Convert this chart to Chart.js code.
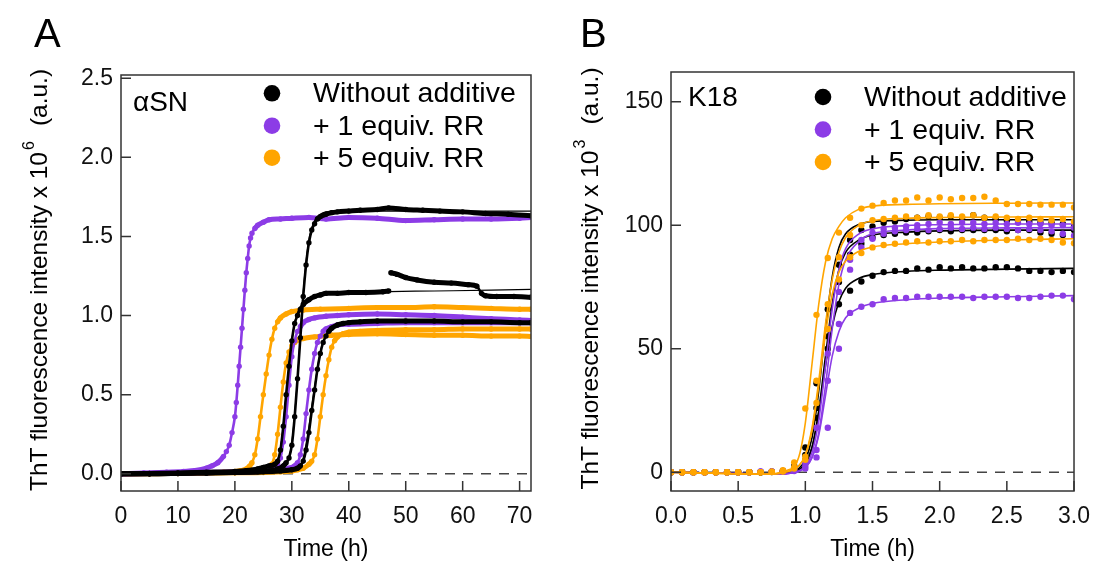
<!DOCTYPE html>
<html>
<head>
<meta charset="utf-8">
<script src="https://cdn.jsdelivr.net/npm/chart.js@4.4.0/dist/chart.umd.min.js"></script>
<style>
  body { margin: 0; background: #fff; }
  #wrap { position: relative; width: 1102px; height: 565px; }
  canvas { position: absolute; top: 0; }
  #chartA { left: 0; }
  #chartB { left: 551px; }
</style>
</head>
<body>
<div id="wrap">
  <canvas id="chartA" width="551" height="565"></canvas>
  <canvas id="chartB" width="551" height="565"></canvas>
</div>
<script>
// ThT aggregation kinetics, panel A (alpha-synuclein) and panel B (K18)

const FONT = '"Liberation Sans", Arial, Helvetica, sans-serif';
const BLACK = '#000000';
const PURPLE = '#8c3ce6';
const ORANGE = '#ffa500';

const legendLabels = ['Without additive', '+ 1 equiv. RR', '+ 5 equiv. RR'];

// ---- panel A : time (h) / intensity (x 10^6) ----
const aK1T = [0, 5, 10, 15, 20, 24, 26, 27.5, 28.5, 29, 29.5, 30, 30.5, 31, 31.5, 32, 32.5, 33, 33.5, 34, 34.5, 35, 36, 37, 38, 40, 42, 45, 47, 50, 53, 56, 60, 64, 68, 72];
const aK1V = [0, 0, 0.002, 0.005, 0.008, 0.012, 0.018, 0.03, 0.05, 0.07, 0.1, 0.18, 0.36, 0.6, 0.86, 1.12, 1.32, 1.46, 1.54, 1.58, 1.61, 1.625, 1.64, 1.65, 1.655, 1.66, 1.665, 1.67, 1.68, 1.67, 1.665, 1.66, 1.655, 1.645, 1.64, 1.63];
const aK2T = [0, 5, 10, 15, 20, 22, 24, 25, 26, 27, 27.5, 28, 28.5, 29, 29.5, 30, 30.5, 31, 31.5, 32, 33, 34, 35, 36, 38, 40, 43, 46, 47, 47.2, 47.4, 48.5, 50, 52, 55, 58, 61, 62.5, 63.3, 64, 66, 69, 72];
const aK2V = [0, 0.002, 0.005, 0.01, 0.015, 0.02, 0.03, 0.04, 0.05, 0.06, 0.08, 0.15, 0.3, 0.5, 0.68, 0.84, 0.95, 1.0, 1.04, 1.07, 1.1, 1.12, 1.13, 1.14, 1.14, 1.145, 1.145, 1.15, 1.155, null, 1.27, 1.26, 1.24, 1.225, 1.21, 1.205, 1.195, 1.185, 1.14, 1.125, 1.12, 1.12, 1.115];
const aK3T = [0, 5, 10, 15, 20, 25, 28, 30, 31, 31.5, 32, 32.5, 33, 33.5, 34, 34.5, 35, 35.5, 36, 36.5, 37, 38, 39, 40, 42, 45, 50, 55, 60, 65, 70, 72];
const aK3V = [0, 0, 0.002, 0.005, 0.008, 0.012, 0.018, 0.025, 0.035, 0.05, 0.08, 0.15, 0.26, 0.4, 0.53, 0.66, 0.76, 0.83, 0.87, 0.9, 0.92, 0.94, 0.95, 0.955, 0.96, 0.965, 0.965, 0.965, 0.96, 0.96, 0.955, 0.955];

const aP1T = [0, 4, 8, 11, 13, 15, 16, 17, 18, 18.5, 19, 19.5, 20, 20.25, 20.5, 20.75, 21, 21.25, 21.5, 21.75, 22, 22.25, 22.5, 22.75, 23, 23.5, 24, 25, 26, 28, 30, 33, 36, 40, 45, 50, 55, 60, 65, 70, 72];
const aP1V = [0, 0.005, 0.01, 0.015, 0.02, 0.035, 0.05, 0.07, 0.11, 0.14, 0.18, 0.26, 0.36, 0.45, 0.56, 0.68, 0.8, 0.92, 1.04, 1.16, 1.27, 1.36, 1.44, 1.49, 1.52, 1.55, 1.57, 1.59, 1.605, 1.61, 1.615, 1.62, 1.61, 1.62, 1.615, 1.6, 1.605, 1.61, 1.61, 1.615, 1.62];
const aP2T = [0, 5, 10, 15, 20, 24, 26, 27, 27.5, 28, 28.5, 29, 29.5, 30, 30.5, 31, 31.5, 32, 33, 34, 36, 38, 40, 45, 50, 55, 60, 65, 70, 72];
const aP2V = [0, 0.002, 0.005, 0.008, 0.012, 0.02, 0.03, 0.04, 0.06, 0.1, 0.2, 0.36, 0.56, 0.74, 0.84, 0.9, 0.93, 0.955, 0.975, 0.985, 0.995, 1.0, 1.005, 1.01, 1.005, 1.0, 0.99, 0.98, 0.972, 0.968];
const aP3T = [0, 5, 10, 15, 20, 25, 28, 29.5, 30.5, 31, 31.5, 32, 32.5, 33, 33.5, 34, 34.5, 35, 35.5, 36, 37, 38, 40, 45, 50, 55, 60, 65, 70, 72];
const aP3V = [0, 0.002, 0.004, 0.007, 0.01, 0.015, 0.025, 0.035, 0.05, 0.07, 0.12, 0.22, 0.38, 0.53, 0.66, 0.76, 0.83, 0.87, 0.9, 0.915, 0.93, 0.94, 0.945, 0.95, 0.955, 0.955, 0.955, 0.955, 0.955, 0.955];

const aO1T = [0, 5, 10, 15, 18, 20, 21, 22, 22.5, 23, 23.5, 24, 24.5, 25, 25.5, 26, 26.5, 27, 27.5, 28, 29, 30, 32, 35, 40, 45, 50, 55, 60, 65, 70, 72];
const aO1V = [0, 0.002, 0.004, 0.007, 0.01, 0.015, 0.02, 0.03, 0.045, 0.07, 0.12, 0.22, 0.36, 0.5, 0.63, 0.75, 0.85, 0.92, 0.96, 0.985, 1.01, 1.025, 1.035, 1.04, 1.045, 1.05, 1.05, 1.055, 1.05, 1.045, 1.04, 1.04];
const aO2T = [0, 5, 10, 15, 20, 23, 25, 26, 26.5, 27, 27.5, 28, 28.5, 29, 29.5, 30, 30.5, 31, 32, 34, 37, 40, 45, 50, 55, 60, 65, 70, 72];
const aO2V = [0, 0.002, 0.004, 0.006, 0.01, 0.015, 0.025, 0.035, 0.06, 0.12, 0.25, 0.42, 0.58, 0.7, 0.77, 0.81, 0.83, 0.845, 0.855, 0.865, 0.875, 0.88, 0.885, 0.88, 0.875, 0.875, 0.87, 0.87, 0.868];
const aO3T = [0, 5, 10, 15, 20, 25, 28, 30, 31, 32, 33, 33.5, 34, 34.5, 35, 35.5, 36, 36.5, 37, 37.5, 38, 39, 40, 42, 45, 50, 55, 60, 65, 70, 72];
const aO3V = [0, 0, 0.002, 0.004, 0.006, 0.008, 0.012, 0.018, 0.025, 0.035, 0.06, 0.08, 0.12, 0.22, 0.36, 0.5, 0.62, 0.72, 0.8, 0.84, 0.865, 0.885, 0.895, 0.9, 0.905, 0.91, 0.91, 0.915, 0.915, 0.915, 0.915];

// fitted curves (black) for panel A
const aK1fT = [0, 26, 29, 30, 31, 32, 33, 34, 35, 36, 38, 72];
const aK1fV = [0, 0.01, 0.06, 0.2, 0.6, 1.15, 1.48, 1.6, 1.64, 1.655, 1.66, 1.66];
const aK2fT = [0, 24, 27, 28, 29, 30, 31, 32, 34, 37, 45, 55, 65, 72];
const aK2fV = [0, 0.01, 0.05, 0.15, 0.5, 0.85, 1.02, 1.08, 1.12, 1.14, 1.15, 1.155, 1.16, 1.165];
const aK3fT = [0, 28, 31, 32, 33, 34, 35, 36, 37, 39, 45, 72];
const aK3fV = [0, 0.01, 0.04, 0.1, 0.3, 0.55, 0.77, 0.88, 0.93, 0.95, 0.96, 0.96];

const aZeroT = [0, 72];
const aZeroV = [0, 0];

// ---- panel B : time (h) / intensity (x 10^3), one reading every 5 min ----
const bT = [0, 0.083, 0.167, 0.25, 0.333, 0.417, 0.5, 0.583, 0.667, 0.75, 0.833, 0.917, 1.0, 1.083, 1.167, 1.25, 1.333, 1.417, 1.5, 1.583, 1.667, 1.75, 1.833, 1.917, 2.0, 2.083, 2.167, 2.25, 2.333, 2.417, 2.5, 2.583, 2.667, 2.75, 2.833, 2.917, 3.0];
const bK1 = [0, 0, 0, 0, 0, 0, 0, 0, 0, 0.2, 0.5, 2.5, 10, 36, 66, 84, 94, 98, 99.5, 101, 101.5, 102.5, 103, 103.5, 103, 103.5, 103, 104, 103, 102.5, 102, 102, 101.5, 101, 101, 100.5, 99.5];
const bK2 = [0, 0, 0, 0, 0, 0, 0, 0, 0, 0.2, 0.3, 2, 7, 26, 55, 77, 88, 92.5, 95, 96, 96.5, 97, 97, 97.5, 98, 97.5, 98, 98, 98, 98, 97.5, 98, 98, 97, 96.5, 96, 98];
const bK3 = [0, 0, 0, 0, 0, 0, 0, 0, 0, 0.1, 0.3, 1.5, 5, 22, 50, 68, 73.5, 77.2, 79.5, 81, 81.5, 81.5, 82.5, 82, 83, 82.5, 83, 82.5, 82.5, 83, 83, 82.5, 81.5, 81.5, 81, 81.5, 81];
const bP1 = [0, 0, 0, 0, 0, 0, 0, 0, 0.2, 0.3, 0.5, 1, 4, 18, 48, 73, 86, 94, 97, 98.5, 99, 99.5, 100, 100.5, 101, 100.5, 101, 101, 100.5, 101, 100.5, 101, 100.5, 100.5, 100, 100, 99];
const bP2 = [0, 0, 0, 0, 0, 0, 0, 0, 0.2, 0.2, 0.3, 0.5, 1.5, 6, 18, 50, 82, 91, 94.5, 96.5, 97.5, 98, 98.5, 98, 98.5, 99, 98.5, 99, 98.5, 99, 98.5, 98, 98.5, 98, 97.5, 96.5, 95.7];
const bP3 = [0, 0, 0, 0, 0, 0, 0, 0, 0.3, 0.3, 0.5, 1, 2.5, 9, 37, 60, 64.5, 67, 68, 70, 70.5, 70.5, 71, 71, 71, 71, 71, 70.5, 71, 71, 71, 70.5, 70.5, 71, 71.5, 71.5, 70];
const bO1 = [0, 0, 0, 0, 0, 0, 0, 0, 0, 0.2, 0.8, 4, 25.8, 63.7, 86.7, 97, 103, 106.7, 107.9, 109, 110, 110, 111.2, 110, 111.2, 110.5, 111, 111, 111.5, 110, 108.6, 108.6, 108.6, 108.3, 108.3, 108.3, 107.2];
const bO2 = [0, 0, 0, 0, 0, 0, 0, 0, 0, 0.2, 0.5, 2, 6.3, 37, 68, 87, 96, 100, 102, 102.5, 103, 103.5, 103, 104, 103.5, 104, 103.5, 104, 103, 103.5, 103, 102.5, 103, 102.5, 102, 102.5, 101.5];
const bO3 = [0, 0, 0, 0, 0, 0, 0, 0, 0, 0.1, 0.3, 1.5, 5, 28, 58, 78, 87, 88.7, 91, 92, 92.5, 93, 93.5, 93, 93.5, 93.5, 94, 93.5, 94, 94, 94, 94.5, 94, 94.5, 94, 93, 92.7];

// fitted curves for panel B
const bFT = [0, 0.4, 0.7, 0.85, 0.95, 1.0, 1.05, 1.1, 1.15, 1.2, 1.25, 1.3, 1.4, 1.5, 1.75, 2.0, 2.5, 3.0];
const bK1f = [0, -0.4, -0.8, -0.3, 1.5, 5, 14, 33, 58, 79, 91, 96.5, 100.3, 101.5, 102, 102.2, 102.2, 102.2];
const bK2f = [0, -0.4, -0.8, -0.5, 0.8, 3.5, 10, 25, 47, 68, 82, 89, 94, 96, 97.2, 97.7, 98, 98];
const bK3f = [0, -0.4, -0.8, -0.5, 0.8, 3.5, 10, 24, 43, 59, 69, 74.5, 78.5, 80, 81.3, 81.8, 82.2, 82.5];
const bP1f = [0, -0.4, -0.8, -0.6, 0.5, 2.5, 8, 21, 43, 66, 82, 90.5, 96.5, 98.5, 99.8, 100.2, 100.5, 100.5];
const bP2f = [0, -0.4, -0.8, -0.6, 0.3, 2, 6, 16, 35, 58, 76, 86, 93.5, 96.5, 98, 98.6, 98.9, 99];
const bP3f = [0, -0.4, -0.8, -0.6, 0.3, 2, 6, 15, 31, 47, 57, 62.5, 66.5, 68.3, 69.8, 70.5, 71, 71.5];
const bO1f = [0, -0.5, -0.8, 0.5, 6, 20, 44, 68, 85, 94.5, 99.5, 103, 106.5, 107.7, 108.4, 108.7, 108.9, 109];
const bO2f = [0, -0.5, -0.8, 0, 2.5, 7, 18, 37, 60, 78, 89, 95, 100, 101.8, 102.8, 103.1, 103.3, 103.4];
const bO3f = [0, -0.5, -0.8, 0, 2.5, 7, 17, 35, 56, 72, 81, 85.5, 89.5, 91.2, 92.5, 93.2, 94, 94.5];

const bZeroT = [0, 3];
const bZeroV = [0, 0];

function xy(ts, vs) {
    return ts.map((t, i) => ({ x: t, y: vs[i] }));
}

function series(ts, vs, color, order, extra) {
    return Object.assign({
        data: xy(ts, vs),
        borderColor: color,
        backgroundColor: color,
        pointBackgroundColor: color,
        pointBorderWidth: 0,
        pointHoverRadius: 0,
        order: order,
        spanGaps: false,
        cubicInterpolationMode: 'monotone'
    }, extra);
}

// dense readings: thick band on the plateaus, thinner line where the curve is steep
const dotsA = {
    borderWidth: 5,
    pointRadius: 2.7,
    segment: {
        borderWidth: c => {
            const dx = Math.abs(c.p1.x - c.p0.x), dy = Math.abs(c.p1.y - c.p0.y);
            return dy > dx * 1.5 ? 2.6 : 5;
        }
    }
};
const fitA = { borderWidth: 1.2, pointRadius: 0 };
const dotsB = { showLine: false, pointRadius: 3.2 };
const fitB = { borderWidth: 1.6, pointRadius: 0 };
const zeroLine = { borderColor: '#444', borderWidth: 1.4, borderDash: [10, 8], pointRadius: 0 };

// draws frame, inward ticks, panel letter, tag, legend and axis titles
const decor = {
    id: 'decor',
    afterDraw(chart, args, o) {
        const ctx = chart.ctx;
        const a = chart.chartArea;
        const sx = chart.scales.x, sy = chart.scales.y;
        ctx.save();

        ctx.strokeStyle = '#333';
        ctx.lineWidth = 1.5;
        ctx.beginPath();
        sx.ticks.forEach(t => {
            const p = sx.getPixelForValue(t.value);
            ctx.moveTo(p, a.bottom);
            ctx.lineTo(p, a.bottom - 10);
        });
        sy.ticks.forEach(t => {
            const p = sy.getPixelForValue(t.value);
            ctx.moveTo(a.left, p);
            ctx.lineTo(a.left + 10, p);
        });
        ctx.stroke();
        ctx.strokeRect(a.left, a.top, a.right - a.left, a.bottom - a.top);

        ctx.fillStyle = '#000';
        ctx.textAlign = 'left';
        ctx.textBaseline = 'alphabetic';
        ctx.font = '40px ' + FONT;
        ctx.fillText(o.letter, o.letterX, 47);

        ctx.font = '28px ' + FONT;
        ctx.fillText(o.tag, o.tagX, o.tagY);

        // legend
        const colors = [BLACK, PURPLE, ORANGE];
        ctx.font = '28.5px ' + FONT;
        legendLabels.forEach((lab, i) => {
            const cy = o.legendY[i];
            ctx.fillStyle = colors[i];
            ctx.beginPath();
            ctx.arc(o.legendX, cy, 8.3, 0, Math.PI * 2);
            ctx.fill();
            ctx.fillStyle = '#000';
            ctx.fillText(lab, o.legendX + 41, cy + 9);
        });

        // x title
        ctx.font = '23px ' + FONT;
        ctx.textAlign = 'center';
        ctx.fillText('Time (h)', (a.left + a.right) / 2, 556);

        // y title with superscript exponent
        const main = 'ThT fluorescence intensity x 10';
        const tail = '(a.u.)';
        ctx.font = '24.5px ' + FONT;
        const wMain = ctx.measureText(main).width;
        const wTail = ctx.measureText(tail).width;
        ctx.font = '16px ' + FONT;
        const wExp = ctx.measureText(o.exp).width;
        const gap = 15;
        const total = wMain + wExp + gap + wTail;
        ctx.translate(o.titleX, (a.top + a.bottom) / 2 - 2);
        ctx.rotate(-Math.PI / 2);
        ctx.textAlign = 'left';
        let x = -total / 2;
        ctx.font = '24.5px ' + FONT;
        ctx.fillText(main, x, 0);
        x += wMain + 2;
        ctx.font = '16px ' + FONT;
        ctx.fillText(o.exp, x, -13);
        x += wExp + gap;
        ctx.font = '24.5px ' + FONT;
        ctx.fillText(tail, x, 0);

        ctx.restore();
    }
};

const tickFont = { family: FONT, size: 23 };

function axes(xMin, xMax, xStep, yMin, yMax, yStep, yWidth, xFmt, yFmt) {
    return {
        x: {
            type: 'linear', min: xMin, max: xMax,
            afterFit: s => { s.height = 74; },
            grid: { display: false, drawTicks: false },
            border: { display: false },
            ticks: { stepSize: xStep, includeBounds: false, autoSkip: false, maxRotation: 0,
                padding: 12, color: '#111', font: tickFont, callback: xFmt }
        },
        y: {
            type: 'linear', min: yMin, max: yMax,
            afterFit: s => { s.width = yWidth; },
            grid: { display: false, drawTicks: false },
            border: { display: false },
            ticks: { stepSize: yStep, includeBounds: false, autoSkip: false,
                padding: 8, color: '#111', font: tickFont, callback: yFmt }
        }
    };
}

const baseOptions = {
    responsive: false,
    animation: false,
    events: [],
    plugins: { legend: { display: false }, tooltip: { enabled: false } }
};

new Chart(document.getElementById('chartA'), {
    type: 'line',
    data: {
        datasets: [
            series(aK1fT, aK1fV, BLACK, 0, fitA),
            series(aK2fT, aK2fV, BLACK, 0, fitA),
            series(aK3fT, aK3fV, BLACK, 0, fitA),
            series(aK1T, aK1V, BLACK, 1, dotsA),
            series(aK2T, aK2V, BLACK, 1, dotsA),
            series(aK3T, aK3V, BLACK, 1, dotsA),
            series(aP1T, aP1V, PURPLE, 2, dotsA),
            series(aP2T, aP2V, PURPLE, 2, dotsA),
            series(aP3T, aP3V, PURPLE, 2, dotsA),
            series(aO1T, aO1V, ORANGE, 3, dotsA),
            series(aO2T, aO2V, ORANGE, 3, dotsA),
            series(aO3T, aO3V, ORANGE, 3, dotsA),
            series(aZeroT, aZeroV, '#444', 9, zeroLine)
        ]
    },
    options: Object.assign({}, baseOptions, {
        layout: { padding: { left: 0, right: 20, top: 75, bottom: 0 } },
        scales: axes(0, 72, 10, -0.109, 2.52, 0.5, 121, v => v, v => v.toFixed(1)),
        plugins: Object.assign({}, baseOptions.plugins, {
            decor: { letter: 'A', letterX: 34, tag: 'αSN', tagX: 133, tagY: 111,
                legendX: 272, legendY: [93.3, 125.7, 157.7], exp: '6', titleX: 47 }
        })
    }),
    plugins: [decor]
});

new Chart(document.getElementById('chartB'), {
    type: 'line',
    data: {
        datasets: [
            series(bFT, bO1f, ORANGE, 0, fitB),
            series(bFT, bO2f, ORANGE, 0, fitB),
            series(bFT, bO3f, ORANGE, 0, fitB),
            series(bT, bO1, ORANGE, 1, dotsB),
            series(bT, bO2, ORANGE, 1, dotsB),
            series(bT, bO3, ORANGE, 1, dotsB),
            series(bFT, bP1f, PURPLE, 2, fitB),
            series(bFT, bP2f, PURPLE, 2, fitB),
            series(bFT, bP3f, PURPLE, 2, fitB),
            series(bT, bP1, PURPLE, 3, dotsB),
            series(bT, bP2, PURPLE, 3, dotsB),
            series(bT, bP3, PURPLE, 3, dotsB),
            series(bFT, bK1f, BLACK, 4, fitB),
            series(bFT, bK2f, BLACK, 4, fitB),
            series(bFT, bK3f, BLACK, 4, fitB),
            series(bT, bK1, BLACK, 5, dotsB),
            series(bT, bK2, BLACK, 5, dotsB),
            series(bT, bK3, BLACK, 5, dotsB),
            series(bZeroT, bZeroV, '#444', 9, zeroLine)
        ]
    },
    options: Object.assign({}, baseOptions, {
        layout: { padding: { left: 0, right: 21, top: 72, bottom: 0 } },
        scales: axes(0, 3, 0.5, -7.6, 162, 50, 120, v => v.toFixed(1), v => v),
        plugins: Object.assign({}, baseOptions.plugins, {
            decor: { letter: 'B', letterX: 29, tag: 'K18', tagX: 137, tagY: 106,
                legendX: 272, legendY: [97, 129.5, 162], exp: '3', titleX: 47 }
        })
    }),
    plugins: [decor]
});
</script>
</body>
</html>
